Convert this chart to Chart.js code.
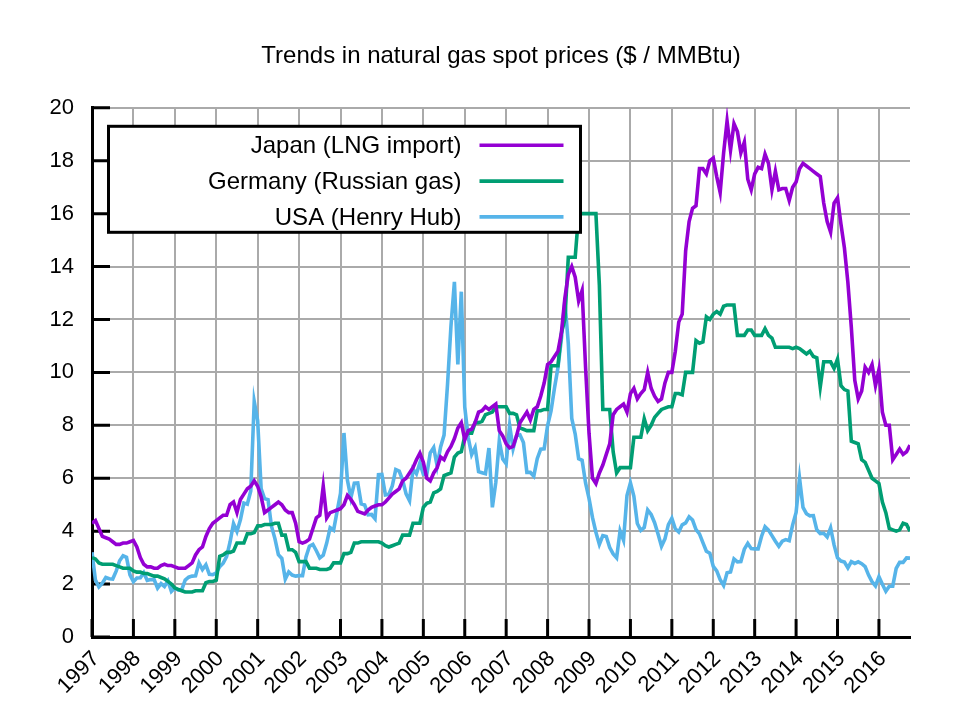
<!DOCTYPE html>
<html>
<head>
<meta charset="utf-8">
<title>Natural gas spot prices</title>
<script src="https://cdn.jsdelivr.net/npm/chart.js@4/dist/chart.umd.min.js"></script>
<style>
  html, body { margin: 0; padding: 0; background: #fff; }
  #wrap { width: 960px; height: 720px; }
</style>
</head>
<body>
<div id="wrap"><canvas id="gasChart"></canvas></div>
<script>
// monthly values, Jan 1997 .. Oct 2016, $ / MMBtu
const startYear = 1997;
const tickYears = [1997, 1998, 1999, 2000, 2001, 2002, 2003, 2004, 2005, 2006,
                   2007, 2008, 2009, 2010, 2011, 2012, 2013, 2014, 2015, 2016];
const yTicks = [0, 2, 4, 6, 8, 10, 12, 14, 16, 18, 20];
const seriesNames = ['Japan (LNG import)', 'Germany (Russian gas)', 'USA (Henry Hub)'];

const japan = [
  4.3, 4.4, 4.1, 3.8, 3.75, 3.7, 3.6, 3.5, 3.5, 3.55, 3.55, 3.6,
  3.65, 3.4, 3.0, 2.75, 2.65, 2.65, 2.6, 2.6, 2.7, 2.75, 2.7, 2.7,
  2.65, 2.6, 2.6, 2.6, 2.7, 2.8, 3.1, 3.3, 3.4, 3.8, 4.1, 4.3,
  4.4, 4.5, 4.6, 4.6, 5.0, 5.1, 4.7, 5.2, 5.4, 5.6, 5.7, 5.9,
  5.7, 5.3, 4.7, 4.8, 4.9, 5.0, 5.1, 5.0, 4.8, 4.7, 4.7, 4.3,
  3.6, 3.55, 3.6, 3.7, 4.1, 4.5, 4.6, 5.7, 4.5, 4.7, 4.75, 4.8,
  4.85, 5.0, 5.35, 5.2, 5.0, 4.75, 4.7, 4.65, 4.8, 4.9, 4.95, 5.0,
  5.0, 5.1, 5.25, 5.4, 5.5, 5.6, 5.9, 6.0, 6.2, 6.4, 6.7, 6.95,
  6.6, 6.0, 5.9, 6.2, 6.4, 6.8, 6.7, 7.0, 7.2, 7.5, 7.9, 8.1,
  7.45, 7.8, 7.85, 8.1, 8.5, 8.55, 8.7, 8.6, 8.7, 8.8, 7.8, 7.6,
  7.3, 7.15, 7.2, 7.6, 8.1, 8.3, 8.5, 8.2, 8.6, 8.7, 9.1, 9.6,
  10.3, 10.4, 10.6, 10.8, 11.5, 12.8, 13.7, 14.0, 13.6, 12.7, 13.1, 10.2,
  7.7, 6.0, 5.8, 6.2, 6.5, 6.9, 7.3, 8.4, 8.6, 8.7, 8.8, 8.5,
  9.2, 9.4, 9.0, 9.2, 9.35, 10.0, 9.4, 9.1, 8.9, 9.0, 9.6, 10.0,
  10.0, 10.8, 11.9, 12.2, 14.6, 15.7, 16.2, 16.3, 17.7, 17.7, 17.5, 18.0,
  18.1, 17.4, 16.8, 18.3, 19.5, 18.4, 19.4, 19.1, 18.3, 18.7, 17.3, 16.9,
  17.5, 17.75, 17.7, 18.25, 17.9, 16.9, 17.6, 16.9, 16.95, 16.95, 16.5, 17.0,
  17.2, 17.7, 17.9, 17.8, 17.7, 17.6, 17.5, 17.4, 16.4, 15.7, 15.3, 16.4,
  16.6, 15.6, 14.7, 13.4, 11.7, 9.7, 9.0, 9.3, 10.2, 10.0, 10.3, 9.5,
  10.1, 8.5, 8.0, 8.0, 6.7, 6.9, 7.1, 6.9, 7.0, 7.25
];

const germany = [
  3.0, 2.95, 2.8, 2.75, 2.75, 2.75, 2.75, 2.7, 2.65, 2.6, 2.6, 2.6,
  2.5, 2.45, 2.45, 2.4, 2.4, 2.35, 2.3, 2.3, 2.25, 2.2, 2.1, 2.0,
  1.85, 1.8, 1.75, 1.7, 1.7, 1.7, 1.75, 1.75, 1.75, 2.05, 2.1, 2.1,
  2.15, 3.05, 3.1, 3.2, 3.2, 3.25, 3.55, 3.55, 3.55, 3.9, 3.9, 3.95,
  4.2, 4.2, 4.25, 4.25, 4.25, 4.3, 4.3, 3.85, 3.85, 3.3, 3.3, 3.2,
  2.85, 2.85, 2.85, 2.6, 2.6, 2.6, 2.55, 2.55, 2.55, 2.6, 2.8, 2.8,
  2.8, 3.15, 3.15, 3.2, 3.55, 3.55, 3.6, 3.6, 3.6, 3.6, 3.6, 3.6,
  3.55, 3.45, 3.4, 3.45, 3.5, 3.55, 3.85, 3.85, 3.85, 4.3, 4.3, 4.3,
  4.9, 5.05, 5.1, 5.45, 5.5, 5.6, 6.1, 6.15, 6.2, 6.8, 6.95, 7.0,
  7.6, 7.7, 7.7, 8.1, 8.1, 8.15, 8.4, 8.45, 8.5, 8.7, 8.7, 8.7,
  8.7, 8.45, 8.45, 8.4, 7.9, 7.85, 7.8, 7.8, 7.8, 8.55, 8.55, 8.6,
  8.6, 10.25, 10.25, 10.25, 11.5, 12.0, 14.35, 14.35, 14.35, 16.0, 16.0, 16.0,
  16.0, 16.0, 16.0, 13.3, 8.6, 8.6, 8.6, 7.0, 6.2, 6.4, 6.4, 6.4,
  6.4, 7.55, 7.55, 7.55, 8.25, 7.8, 8.0, 8.3, 8.45, 8.6, 8.65, 8.7,
  8.7, 9.2, 9.2, 9.15, 10.0, 10.0, 10.0, 11.2, 11.1, 11.15, 12.1, 12.0,
  12.2, 12.3, 12.2, 12.5, 12.55, 12.55, 12.55, 11.4, 11.4, 11.4, 11.6, 11.6,
  11.4, 11.4, 11.4, 11.65, 11.4, 11.3, 10.95, 10.95, 10.95, 10.95, 10.95, 10.9,
  10.95, 10.9, 10.8, 10.7, 10.8, 10.6, 10.55, 9.45, 10.4, 10.4, 10.4, 10.15,
  10.5, 9.5, 9.35, 9.3, 7.4, 7.35, 7.3, 6.7, 6.6, 6.3, 6.0, 5.9,
  5.8, 5.1, 4.7, 4.1, 4.05, 4.0, 4.05, 4.3, 4.25, 4.0
];

const usa = [
  3.2, 2.15, 1.89, 2.03, 2.25, 2.2, 2.19, 2.49, 2.88, 3.07, 3.01, 2.35,
  2.09, 2.23, 2.24, 2.43, 2.14, 2.17, 2.17, 1.85, 2.02, 1.91, 2.12, 1.72,
  1.85, 1.77, 1.79, 2.15, 2.26, 2.3, 2.31, 2.8, 2.55, 2.73, 2.37, 2.36,
  2.42, 2.66, 2.79, 3.04, 3.59, 4.29, 3.99, 4.43, 5.06, 5.02, 5.52, 8.9,
  8.17, 5.61, 5.23, 5.19, 4.19, 3.72, 3.11, 2.97, 2.19, 2.46, 2.34, 2.3,
  2.32, 2.32, 3.03, 3.43, 3.5, 3.26, 2.99, 3.09, 3.55, 4.13, 4.04, 4.74,
  5.43, 7.71, 5.93, 5.26, 5.81, 5.82, 5.03, 4.99, 4.62, 4.63, 4.47, 6.13,
  6.14, 5.37, 5.39, 5.71, 6.33, 6.27, 5.93, 5.41, 5.15, 6.35, 6.17, 6.58,
  6.15, 6.14, 6.96, 7.16, 6.47, 7.18, 7.63, 9.53, 11.75, 13.42, 10.3, 13.05,
  8.69, 7.54, 6.89, 7.16, 6.25, 6.21, 6.17, 7.14, 4.9, 5.85, 7.41, 6.73,
  6.55, 8.0, 7.11, 7.6, 7.64, 7.35, 6.22, 6.22, 6.08, 6.74, 7.1, 7.11,
  7.99, 8.54, 9.41, 10.18, 11.27, 12.69, 11.09, 8.26, 7.67, 6.74, 6.68, 5.82,
  5.24, 4.52, 3.96, 3.5, 3.83, 3.8, 3.38, 3.14, 2.99, 4.01, 3.66, 5.35,
  5.83, 5.32, 4.29, 4.03, 4.14, 4.8, 4.63, 4.32, 3.89, 3.43, 3.71, 4.25,
  4.49, 4.09, 3.97, 4.24, 4.31, 4.54, 4.42, 4.06, 3.9, 3.57, 3.24, 3.17,
  2.67, 2.5, 2.17, 1.95, 2.43, 2.46, 2.95, 2.84, 2.85, 3.32, 3.54, 3.34,
  3.33, 3.33, 3.81, 4.17, 4.04, 3.83, 3.62, 3.43, 3.62, 3.68, 3.64, 4.24,
  4.71, 6.0, 4.9, 4.66, 4.58, 4.59, 4.05, 3.91, 3.92, 3.78, 4.12, 3.48,
  2.99, 2.87, 2.83, 2.61, 2.85, 2.78, 2.84, 2.77, 2.66, 2.34, 2.09, 1.93,
  2.28, 1.99, 1.73, 1.92, 1.92, 2.59, 2.82, 2.82, 2.99, 2.98
];

const lineColors = ['#9400d3', '#009e73', '#56b4e9'];
const fontFamily = '"Liberation Sans", Arial, Helvetica, sans-serif';

// month index -> decimal year
function toPoints(values) {
    return values.map(function(v, i) {
        return { x: startYear + i / 12, y: v };
    });
}

const lastX = startYear + (japan.length - 1) / 12;

// short black ticks pointing into the plot, like the original
const innerTicks = {
    id: 'innerTicks',
    beforeDatasetsDraw: function(chart) {
        const ctx = chart.ctx;
        const area = chart.chartArea;
        const xs = chart.scales.x;
        const ys = chart.scales.y;
        const len = 18;
        ctx.save();
        ctx.strokeStyle = '#000';
        ctx.lineWidth = 3;
        ctx.beginPath();
        tickYears.forEach(function(yr) {
            const px = xs.getPixelForValue(yr);
            ctx.moveTo(px, area.bottom);
            ctx.lineTo(px, area.bottom - len);
        });
        yTicks.forEach(function(v) {
            const py = ys.getPixelForValue(v);
            ctx.moveTo(area.left, py);
            ctx.lineTo(area.left + len, py);
        });
        ctx.stroke();
        ctx.restore();
    }
};

// boxed key in the upper left, text first then the line sample
const boxedKey = {
    id: 'boxedKey',
    afterDatasetsDraw: function(chart) {
        const ctx = chart.ctx;
        const area = chart.chartArea;
        const left = area.left + 16.5;
        const top = area.top + 18.5;
        const w = 472;
        const h = 106;
        const rowH = 35.8;
        ctx.save();
        ctx.fillStyle = '#fff';
        ctx.fillRect(left, top, w, h);
        ctx.strokeStyle = '#000';
        ctx.lineWidth = 3;
        ctx.strokeRect(left, top, w, h);
        ctx.font = '24px ' + fontFamily;
        ctx.textAlign = 'right';
        ctx.textBaseline = 'middle';
        chart.data.datasets.forEach(function(ds, i) {
            const y = top + 19 + i * rowH;
            ctx.fillStyle = '#000';
            ctx.fillText(ds.label, left + 353, y + 1);
            ctx.strokeStyle = ds.borderColor;
            ctx.lineWidth = 3.6;
            ctx.beginPath();
            ctx.moveTo(left + 371, y);
            ctx.lineTo(left + 455, y);
            ctx.stroke();
        });
        ctx.restore();
    }
};

Chart.defaults.font.family = fontFamily;
Chart.defaults.color = '#000';

const ctx = document.getElementById('gasChart').getContext('2d');
const gasChart = new Chart(ctx, {
    type: 'line',
    data: {
        datasets: [
            { label: seriesNames[0], data: toPoints(japan), borderColor: lineColors[0] },
            { label: seriesNames[1], data: toPoints(germany), borderColor: lineColors[1] },
            { label: seriesNames[2], data: toPoints(usa), borderColor: lineColors[2] }
        ]
    },
    options: {
        responsive: true,
        maintainAspectRatio: false,
        animation: false,
        layout: { padding: { left: 0, right: 50, top: 0, bottom: 0 } },
        elements: {
            line: { borderWidth: 3.6, tension: 0, fill: false },
            point: { radius: 0, hoverRadius: 0 }
        },
        plugins: {
            legend: { display: false },
            tooltip: { enabled: false },
            title: {
                display: true,
                text: 'Trends in natural gas spot prices ($ / MMBtu)',
                fullSize: false,
                color: '#000',
                font: { size: 24, weight: 'normal' },
                padding: { top: 42, bottom: 37 }
            }
        },
        scales: {
            x: {
                type: 'linear',
                min: startYear,
                max: lastX,
                afterBuildTicks: function(axis) {
                    axis.ticks = tickYears.map(function(v) { return { value: v }; });
                },
                afterFit: function(axis) { axis.height = 83; },
                ticks: {
                    autoSkip: false,
                    maxRotation: 45,
                    minRotation: 45,
                    padding: 9,
                    labelOffset: 4,
                    font: { size: 22 },
                    callback: function(v) { return String(v); }
                },
                grid: { color: '#aaaaaa', lineWidth: 2, drawTicks: false },
                border: { display: true, color: '#000', width: 3 }
            },
            y: {
                min: 0,
                max: 20,
                afterBuildTicks: function(axis) {
                    axis.ticks = yTicks.map(function(v) { return { value: v }; });
                },
                afterFit: function(axis) { axis.width = 92; },
                ticks: {
                    padding: 18,
                    font: { size: 22 },
                    callback: function(v) { return String(v); }
                },
                grid: { color: '#aaaaaa', lineWidth: 2, drawTicks: false },
                border: { display: true, color: '#000', width: 3 }
            }
        }
    },
    plugins: [innerTicks, boxedKey]
});
</script>
</body>
</html>
